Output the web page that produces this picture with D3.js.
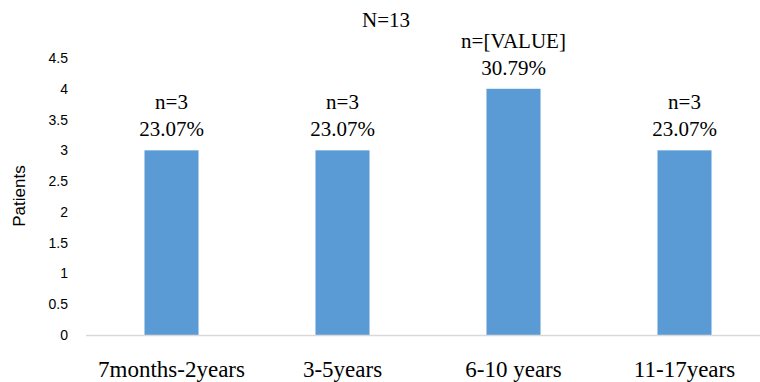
<!DOCTYPE html>
<html>
<head>
<meta charset="utf-8">
<script src="https://cdn.jsdelivr.net/npm/d3@7"></script>
<style>
  html, body { margin: 0; padding: 0; background: #fff; }
  svg { display: block; }
</style>
</head>
<body>
<svg id="chart" width="760" height="382"></svg>
<script>
const categories = ["7months-2years", "3-5years", "6-10 years", "11-17years"];
const patients = [3, 3, 4, 3];
const countLabels = ["n=3", "n=3", "n=[VALUE]", "n=3"];
const pctLabels = ["23.07%", "23.07%", "30.79%", "23.07%"];
const yTicks = [0, 0.5, 1, 1.5, 2, 2.5, 3, 3.5, 4, 4.5];
const titleText = "N=13";
const yAxisTitle = "Patients";

const svg = d3.select("#chart");

const x = d3.scaleBand()
  .domain(categories)
  .range([86, 770])
  .paddingInner(0.684)
  .paddingOuter(0.342);

const y = d3.scaleLinear().domain([0, 4.5]).range([335, 58]);

function serifText(sel, size) {
  return sel.style("font-family", "Liberation Serif, serif")
    .style("font-size", size + "px")
    .style("fill", "#000");
}
function sansText(sel, size) {
  return sel.style("font-family", "Liberation Sans, sans-serif")
    .style("font-size", size + "px")
    .style("fill", "#000");
}

// y tick labels
sansText(svg.append("g")
  .selectAll("text")
  .data(yTicks)
  .join("text")
  .attr("x", 68)
  .attr("y", d => y(d) + 5)
  .style("text-anchor", "end")
  .text(d => d), 14);

// y axis title
sansText(svg.append("text")
  .attr("transform", "translate(25,196) rotate(-90)")
  .style("text-anchor", "middle")
  .text(yAxisTitle), 17);

// bars
svg.append("g")
  .selectAll("rect")
  .data(patients)
  .join("rect")
  .attr("x", (d, i) => x(categories[i]))
  .attr("y", d => y(d))
  .attr("width", x.bandwidth())
  .attr("height", d => y(0) - y(d))
  .attr("fill", "#5b9bd5");

// baseline
svg.append("line")
  .attr("x1", 86).attr("x2", 760)
  .attr("y1", y(0) + 0.5).attr("y2", y(0) + 0.5)
  .attr("stroke", "#d9d9d9")
  .attr("stroke-width", 1.5);

// value labels
serifText(svg.append("g")
  .selectAll("text")
  .data(patients)
  .join("text")
  .attr("x", (d, i) => x(categories[i]) + x.bandwidth() / 2)
  .attr("y", d => y(d) - 14)
  .style("text-anchor", "middle")
  .text((d, i) => pctLabels[i]), 21);

serifText(svg.append("g")
  .selectAll("text")
  .data(patients)
  .join("text")
  .attr("x", (d, i) => x(categories[i]) + x.bandwidth() / 2)
  .attr("y", d => y(d) - 41)
  .style("text-anchor", "middle")
  .text((d, i) => countLabels[i]), 21);

// category labels
serifText(svg.append("g")
  .selectAll("text")
  .data(categories)
  .join("text")
  .attr("x", d => x(d) + x.bandwidth() / 2)
  .attr("y", 377)
  .style("text-anchor", "middle")
  .text(d => d), 23);

// title
serifText(svg.append("text")
  .attr("x", 386)
  .attr("y", 27)
  .style("text-anchor", "middle")
  .text(titleText), 21);
</script>
</body>
</html>
